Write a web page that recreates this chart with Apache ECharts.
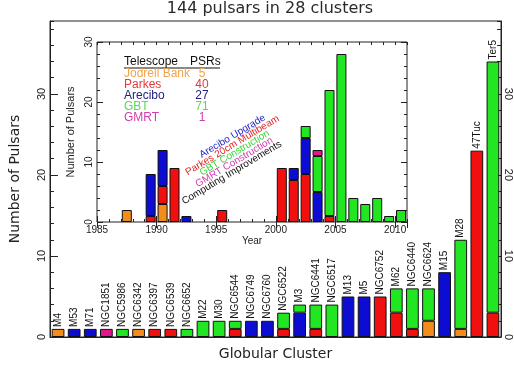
<!DOCTYPE html>
<html><head><meta charset="utf-8">
<script src="https://cdn.jsdelivr.net/npm/echarts@6/dist/echarts.min.js"></script>
<style>html,body{margin:0;padding:0;background:#fff}#c{width:514px;height:366px}</style>
</head><body><div id="c"></div>
<script>
// ---- main chart data (pulsars per cluster, by telescope) ----
const clusters = ['M4','M53','M71','NGC1851','NGC5986','NGC6342','NGC6397','NGC6539','NGC6652','M22','M30','NGC6544','NGC6749','NGC6760','NGC6522','M3','NGC6441','NGC6517','M13','M5','NGC6752','M62','NGC6440','NGC6624','M15','M28','47Tuc','Ter5'];
const jodrellByCluster = [1,0,0,0,0,1,0,0,0,0, 0,0,0,0,0,0,0,0,0,0, 0,0,0,2,0,1,0,0];
const parkesByCluster  = [0,0,0,0,0,0,1,1,0,0, 0,1,0,0,1,0,1,0,0,0, 5,3,1,0,0,0,23,3];
const areciboByCluster = [0,1,1,0,0,0,0,0,0,0, 0,0,2,2,0,3,0,0,5,5, 0,0,0,0,8,0,0,0];
const gbtByCluster     = [0,0,0,0,1,0,0,0,1,2, 2,1,0,0,2,1,3,4,0,0, 0,3,5,4,0,11,0,31];
const gmrtByCluster    = [0,0,0,1,0,0,0,0,0,0, 0,0,0,0,0,0,0,0,0,0, 0,0,0,0,0,0,0,0];
const mainYMax = 39;

// ---- inset data (discoveries per year, by telescope) ----
const years = ['1985','1986','1987','1988','1989','1990','1991','1992','1993','1994','1995','1996','1997','1998','1999','2000','2001','2002','2003','2004','2005','2006','2007','2008','2009','2010'];
const jodrellByYear = [0,0,2,0,0,3,0,0,0,0, 0,0,0,0,0,0,0,0,0,0, 0,0,0,0,0,0];
const parkesByYear  = [0,0,0,0,1,3,9,0,0,0, 2,0,0,0,0,9,7,8,0,1, 0,0,0,0,0,0];
const areciboByYear = [0,0,0,0,7,6,0,1,0,0, 0,0,0,0,0,0,2,6,5,0, 0,0,0,0,0,0];
const gbtByYear     = [0,0,0,0,0,0,0,0,0,0, 0,0,0,0,0,0,0,2,6,21, 28,4,3,4,1,2];
const gmrtByYear    = [0,0,0,0,0,0,0,0,0,0, 0,0,0,0,0,0,0,0,1,0, 0,0,0,0,0,0];
const insetYearMin = 1985, insetYearMax = 2011, insetYMax = 30;

// ---- legend / annotation text ----
const telescopeNames = ['Jodrell Bank','Parkes','Arecibo','GBT','GMRT'];
const telescopeCounts = [5,40,27,71,1];
const milestones = ['Arecibo Upgrade','Parkes 20cm Multibeam','GBT Construction','GMRT Construction','Computing Improvements'];

const barColors = ['#f28c1c','#f01010','#0c0cd2','#22e622','#e0188c'];
const legendColors = ['#f0a44c','#e23a3a','#22227e','#50e050','#d23cae'];
const milestoneColors = ['#2424c8','#e42424','#3ad63a','#d43cb4','#111111'];

const nz = a => a.map(v => v === 0 ? '-' : v);
const FONT = 'Liberation Sans';
const TFONT = 'DejaVu Sans';

const mainSets = [jodrellByCluster, parkesByCluster, areciboByCluster, gbtByCluster, gmrtByCluster];
const insetSets = [jodrellByYear, parkesByYear, areciboByYear, gbtByYear, gmrtByYear];

const series = [];
mainSets.forEach((d, i) => series.push({
  type: 'bar', stack: 'main', xAxisIndex: 0, yAxisIndex: 0, data: nz(d),
  barCategoryGap: '21%', silent: true,
  itemStyle: { color: barColors[i], borderColor: '#111', borderWidth: 1 }
}));
series.push({
  type: 'bar', stack: 'main', xAxisIndex: 0, yAxisIndex: 0, silent: true,
  data: clusters.map(() => 0),
  itemStyle: { color: 'rgba(0,0,0,0)', borderWidth: 0 },
  label: { show: true, position: 'top', rotate: 90, align: 'left', verticalAlign: 'middle',
    distance: 2, fontSize: 10, fontFamily: FONT, color: '#111', formatter: p => p.name }
});
insetSets.forEach((d, i) => series.push({
  type: 'bar', stack: 'inset', xAxisIndex: 1, yAxisIndex: 4, data: nz(d),
  barCategoryGap: '16%', silent: true,
  itemStyle: { color: barColors[i], borderColor: '#111', borderWidth: 1 }
}));

const lbl = { fontSize: 11, fontFamily: FONT, color: '#222' };
function valAxis(extra) {
  return Object.assign({ type: 'value', splitLine: { show: false }, axisLine: { show: false },
    axisTick: { show: true, inside: true, lineStyle: { color: '#222' } }, axisLabel: { show: false } }, extra);
}

const graphics = [
  { type: 'text', x: 270, y: 9, style: { text: '144 pulsars in 28 clusters', font: '16px "DejaVu Sans"', fill: '#2a2a2a', textAlign: 'center', textVerticalAlign: 'middle', align: 'center', verticalAlign: 'middle' } },
  { type: 'text', x: 124, y: 62, style: { text: 'Telescope', font: '12px "Liberation Sans"', fill: '#111', textVerticalAlign: 'middle', verticalAlign: 'middle' } },
  { type: 'text', x: 190, y: 62, style: { text: 'PSRs', font: '12px "Liberation Sans"', fill: '#111', textVerticalAlign: 'middle', verticalAlign: 'middle' } },
  { type: 'line', shape: { x1: 124, y1: 68, x2: 220, y2: 68 }, style: { stroke: '#111', lineWidth: 1 } }
];
telescopeNames.forEach((n, i) => {
  const y = 74 + i * 10.8;
  graphics.push({ type: 'text', x: 124, y, style: { text: n, font: '12px "Liberation Sans"', fill: legendColors[i], textVerticalAlign: 'middle', verticalAlign: 'middle' } });
  graphics.push({ type: 'text', x: 202, y, style: { text: String(telescopeCounts[i]), font: '12px "Liberation Sans"', fill: legendColors[i], textAlign: 'center', align: 'center', textVerticalAlign: 'middle', verticalAlign: 'middle' } });
});
const milestonePos = [[232.5,136.3],[232.4,145.4],[234.6,153],[234.2,162.3],[231.8,172.7]];
milestones.forEach((m, i) => graphics.push({
  type: 'text', x: milestonePos[i][0], y: milestonePos[i][1], rotation: 31 * Math.PI / 180,
  style: { text: m, font: '10px "Liberation Sans"', fill: milestoneColors[i], textAlign: 'center', align: 'center', textVerticalAlign: 'middle', verticalAlign: 'middle' }
}));

const option = {
  animation: false,
  backgroundColor: '#fff',
  grid: [
    { left: 40, right: 12, top: 21, bottom: 23, show: true, borderColor: '#222', borderWidth: 1, backgroundColor: 'rgba(0,0,0,0)' },
    { left: 97, top: 42, width: 310, height: 180, show: true, borderColor: '#222', borderWidth: 1, backgroundColor: '#fff' }
  ],
  xAxis: [
    { type: 'category', gridIndex: 0, data: clusters, axisTick: { show: false }, axisLabel: { show: false },
      axisLine: { lineStyle: { color: '#222' } },
      name: 'Globular Cluster', nameLocation: 'middle', nameGap: 10,
      nameTextStyle: { fontSize: 14, fontFamily: TFONT, color: '#222', verticalAlign: 'top' } },
    { type: 'category', gridIndex: 1, data: years, show: false },
    valAxis({ gridIndex: 1, position: 'bottom', min: insetYearMin, max: insetYearMax, interval: 5,
      axisTick: { show: true, inside: true, length: 6, lineStyle: { color: '#222' } },
      axisLabel: Object.assign({ show: true, margin: 3, showMaxLabel: false, formatter: v => String(v) }, lbl, { fontSize: 10 }),
      name: 'Year', nameLocation: 'middle', nameGap: 14,
      nameTextStyle: { fontSize: 10, fontFamily: FONT, color: '#222' } }),
    valAxis({ gridIndex: 1, position: 'bottom', min: insetYearMin, max: insetYearMax, interval: 1,
      axisTick: { show: true, inside: true, length: 3, lineStyle: { color: '#222' } } }),
    valAxis({ gridIndex: 1, position: 'top', min: insetYearMin, max: insetYearMax, interval: 5,
      axisTick: { show: true, inside: true, length: 6, lineStyle: { color: '#222' } } }),
    valAxis({ gridIndex: 1, position: 'top', min: insetYearMin, max: insetYearMax, interval: 1,
      axisTick: { show: true, inside: true, length: 3, lineStyle: { color: '#222' } } })
  ],
  yAxis: [
    valAxis({ gridIndex: 0, position: 'left', min: 0, max: mainYMax, interval: 10,
      axisLine: { show: true, lineStyle: { color: '#222' } },
      axisTick: { show: true, inside: true, length: 8, lineStyle: { color: '#222' } },
      axisLabel: Object.assign({ show: true, rotate: 90, margin: 3, showMaxLabel: false }, lbl),
      name: 'Number of Pulsars', nameLocation: 'middle', nameGap: 28, nameRotate: 90,
      nameTextStyle: { fontSize: 14, fontFamily: TFONT, color: '#222' } }),
    valAxis({ gridIndex: 0, position: 'left', min: 0, max: mainYMax, interval: 2,
      axisTick: { show: true, inside: true, length: 4, lineStyle: { color: '#222' } } }),
    valAxis({ gridIndex: 0, position: 'right', min: 0, max: mainYMax, interval: 10,
      axisLine: { show: true, lineStyle: { color: '#222' } },
      axisTick: { show: true, inside: true, length: 8, lineStyle: { color: '#222' } },
      axisLabel: Object.assign({ show: true, rotate: -90, margin: 2, showMaxLabel: false }, lbl) }),
    valAxis({ gridIndex: 0, position: 'right', min: 0, max: mainYMax, interval: 2,
      axisTick: { show: true, inside: true, length: 4, lineStyle: { color: '#222' } } }),
    valAxis({ gridIndex: 1, position: 'left', min: 0, max: insetYMax, interval: 10,
      axisTick: { show: true, inside: true, length: 6, lineStyle: { color: '#222' } },
      axisLabel: Object.assign({ show: true, rotate: 90, margin: 3 }, lbl, { fontSize: 10 }),
      name: 'Number of Pulsars', nameLocation: 'middle', nameGap: 15, nameRotate: 90,
      nameTextStyle: { fontSize: 11, fontFamily: FONT, color: '#222' } }),
    valAxis({ gridIndex: 1, position: 'left', min: 0, max: insetYMax, interval: 2,
      axisTick: { show: true, inside: true, length: 3, lineStyle: { color: '#222' } } }),
    valAxis({ gridIndex: 1, position: 'right', min: 0, max: insetYMax, interval: 10,
      axisTick: { show: true, inside: true, length: 6, lineStyle: { color: '#222' } } }),
    valAxis({ gridIndex: 1, position: 'right', min: 0, max: insetYMax, interval: 2,
      axisTick: { show: true, inside: true, length: 3, lineStyle: { color: '#222' } } })
  ],
  graphic: graphics,
  series: series
};
const chart = echarts.init(document.getElementById('c'), null, { renderer: 'canvas' });
chart.setOption(option);
</script>
</body></html>
